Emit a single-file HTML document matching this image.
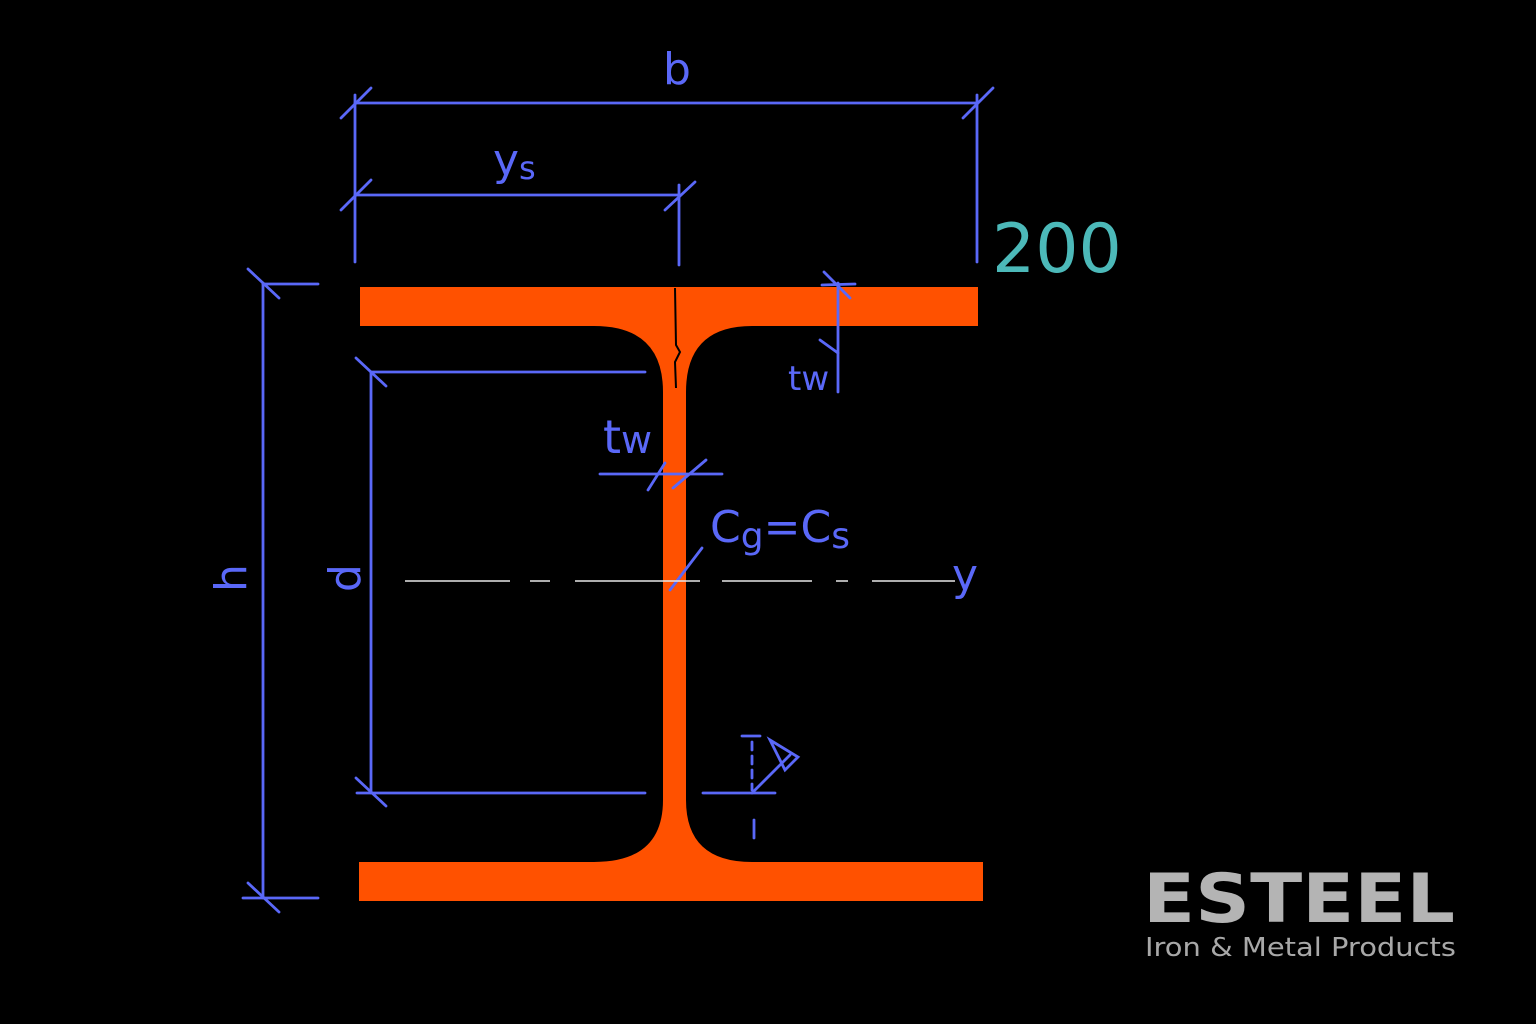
<!DOCTYPE html>
<html><head><style>
html,body{margin:0;padding:0;background:#000;}
svg{display:block}
</style></head><body>
<svg width="1536" height="1024" viewBox="0 0 1536 1024" xmlns="http://www.w3.org/2000/svg">
<rect width="1536" height="1024" fill="#000"/>
<path d="M360,287 H978 V326 H752 Q686,326 686,392 V800 Q686,862 752,862 H983 V901 H359 V862 H594 Q663,862 663,800 V392 Q663,326 594,326 H360 Z" fill="#ff5100"/>
<path d="M675,288 L676,345 L680,352 L675,362 L676,388" stroke="#000" stroke-width="2" fill="none"/>
<g stroke="#5a68f8" stroke-width="2.8" fill="none" stroke-linecap="round">
 <line x1="355" y1="103" x2="977" y2="103"/>
 <line x1="355" y1="95" x2="355" y2="262"/>
 <line x1="977" y1="95" x2="977" y2="262"/>
 <line x1="341" y1="118" x2="371" y2="88"/>
 <line x1="963" y1="118" x2="993" y2="88"/>
 <line x1="355" y1="195" x2="679" y2="195"/>
 <line x1="679" y1="185" x2="679" y2="265"/>
 <line x1="341" y1="210" x2="371" y2="180"/>
 <line x1="665" y1="210" x2="695" y2="182"/>
 <line x1="263" y1="283" x2="263" y2="898"/>
 <line x1="263" y1="284" x2="318" y2="284"/>
 <line x1="243" y1="898" x2="318" y2="898"/>
 <line x1="248" y1="269" x2="279" y2="298"/>
 <line x1="248" y1="883" x2="279" y2="912"/>
 <line x1="371" y1="372" x2="371" y2="793"/>
 <line x1="371" y1="372" x2="645" y2="372"/>
 <line x1="357" y1="793" x2="645" y2="793"/>
 <line x1="356" y1="358" x2="386" y2="386"/>
 <line x1="356" y1="778" x2="386" y2="806"/>
 <line x1="838" y1="283" x2="838" y2="392"/>
 <line x1="824" y1="272" x2="850" y2="298"/>
 <line x1="822" y1="285" x2="855" y2="284"/>
 <line x1="820" y1="340" x2="838" y2="353"/>
 <line x1="600" y1="474" x2="722" y2="474"/>
 <line x1="648" y1="490" x2="665" y2="463"/>
 <line x1="673" y1="488" x2="706" y2="460"/>
 <line x1="670" y1="590" x2="702" y2="548"/>
 <line x1="752" y1="742" x2="752" y2="790" stroke-dasharray="8,6"/>
 <line x1="742" y1="736" x2="760" y2="736"/>
 <line x1="703" y1="793" x2="775" y2="793"/>
 <line x1="752" y1="793" x2="790" y2="755"/>
 <path d="M770,740 L798,757 L785,770 Z"/>
 <line x1="754" y1="820" x2="754" y2="838"/>
</g>
<g stroke="#e8e8e8" stroke-width="1.5">
 <line x1="405" y1="581" x2="510" y2="581"/>
 <line x1="530" y1="581" x2="550" y2="581"/>
 <line x1="575" y1="581" x2="700" y2="581"/>
 <line x1="722" y1="581" x2="812" y2="581"/>
 <line x1="836" y1="581" x2="848" y2="581"/>
 <line x1="872" y1="581" x2="955" y2="581"/>
</g>
<g fill="#5a68f8" font-family="'DejaVu Sans','Liberation Sans',sans-serif">
 <text x="677" y="84" font-size="44" text-anchor="middle">b</text>
 <text x="493" y="175" font-size="44">y<tspan font-size="32" dy="4">s</tspan></text>
 <text x="603" y="453" font-size="46">t<tspan font-size="38">w</tspan></text>
 <text x="788" y="390" font-size="34">tw</text>
 <text x="710" y="542" font-size="44">C<tspan font-size="36" dy="6">g</tspan><tspan dy="-6">=C</tspan><tspan font-size="36" dy="6">s</tspan></text>
 <text x="952" y="590" font-size="44">y</text>
 <text transform="translate(246,578) rotate(-90)" font-size="44" text-anchor="middle">h</text>
 <text transform="translate(360,578) rotate(-90)" font-size="44" text-anchor="middle">d</text>
</g>
<text x="992" y="272" font-family="'DejaVu Sans','Liberation Sans',sans-serif" font-size="68" fill="#4cb9b9">200</text>
<text x="1143" y="922" font-family="'DejaVu Sans','Liberation Sans',sans-serif" font-weight="bold" font-size="68" fill="#b4b4b4" textLength="312" lengthAdjust="spacingAndGlyphs">ESTEEL</text>
<text x="1145" y="956" font-family="'DejaVu Sans','Liberation Sans',sans-serif" font-size="26" fill="#a8a8a8" textLength="311" lengthAdjust="spacingAndGlyphs">Iron &amp; Metal Products</text>
</svg>
</body></html>
